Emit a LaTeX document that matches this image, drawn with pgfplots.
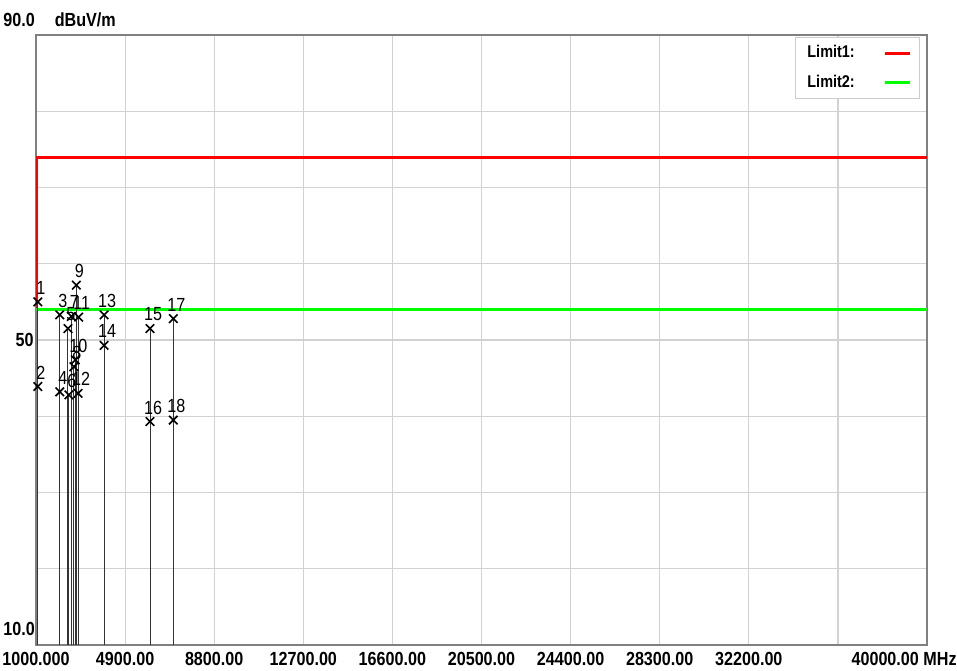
\documentclass[border=0pt]{standalone}
\usepackage{pgfplots}
\pgfplotsset{compat=1.18}
\usepackage{fontspec}
\setmainfont{Liberation Sans}[FakeStretch=0.85]

% markers: number, frequency (MHz), level (dBuV/m), drop to the 10 dB floor
\pgfplotstableread{
n  x     y     d
1  1080  55.0  45.0
2  1080  43.9  33.9
3  2040  53.3  43.3
4  2040  43.2  33.2
5  2400  51.5  41.5
6  2440  42.8  32.8
7  2545  53.1  43.1
8  2660  46.5  36.5
9  2765  57.2  47.2
10 2720  47.4  37.4
11 2870  53.0  43.0
12 2840  43.0  33.0
13 3980  53.3  43.3
14 3980  49.3  39.3
15 5990  51.5  41.5
16 5990  39.3  29.3
17 7010  52.8  42.8
18 7010  39.5  29.5
}\markers

\begin{document}
\begin{tikzpicture}
\useasboundingbox (0pt,0pt) rectangle (478.5pt,335pt);
\begin{axis}[
    at={(18pt,12.5pt)}, anchor=south west,
    scale only axis, width=445.5pt, height=305pt,
    xmin=1000, xmax=40000, ymin=10, ymax=90,
    xtick={1000,4900,8800,12700,16600,20500,24400,28300,32200,36100,40000},
    xticklabels={1000.000,4900.00,8800.00,12700.00,16600.00,20500.00,24400.00,28300.00,32200.00,,},
    ytick={10,20,30,40,50,60,70,80,90},
    yticklabels={,,,,50,,,,},
    tick style={draw=none},
    grid=major,
    grid style={gray!35, line width=0.6pt},
    axis line style={gray, line width=1.2pt},
    ticklabel style={font=\fontsize{9.5}{11}\selectfont\bfseries},
    yticklabel style={inner xsep=1pt},
    xticklabel style={anchor=base, yshift=-10pt},
    /pgf/number format/assume math mode=true,
    legend style={at={(rel axis cs:1,1)}, anchor=north east, xshift=-3.5pt, yshift=-1pt,
        draw=gray!40, line width=0.6pt, legend cell align=left,
        font=\fontsize{8.5}{10}\selectfont\bfseries, row sep=3pt,
        inner xsep=4pt, nodes={text width=36pt}},
    legend plot pos=right,
    legend image code/.code={\draw[#1] (0pt,0pt) -- (12.5pt,0pt);},
]
\addplot[red, line width=1.5pt] coordinates {(1000,54) (1000,74) (40000,74)};
\addlegendentry{Limit1:}
\addplot[green, line width=1.5pt] coordinates {(1000,54) (40000,54)};
\addlegendentry{Limit2:}

\addplot[only marks, mark=x, black, mark options={line width=0.8pt, scale=1.5},
    error bars/.cd, y dir=minus, y explicit,
    error mark=none, error bar style={black!80, line width=0.5pt}]
    table[x=x, y=y, y error minus=d] {\markers};
\addplot[only marks, mark=none,
    nodes near coords, point meta=explicit symbolic,
    every node near coord/.append style={font=\fontsize{9.5}{10}\selectfont, black,
        xshift=1.5pt, inner sep=1pt, yshift=2.5pt}]
    table[x=x, y=y, meta=n] {\markers};
\end{axis}
\node[anchor=north west, inner sep=0pt, font=\fontsize{9.5}{11}\selectfont\bfseries] at (1.5pt,329pt) {90.0\hspace{10pt}dBuV/m};
\node[anchor=south west, inner sep=0pt, font=\fontsize{9.5}{11}\selectfont\bfseries] at (1.5pt,17pt) {10.0};
\node[anchor=base east, inner sep=0pt, font=\fontsize{9.5}{11}\selectfont\bfseries] at (478.5pt,2.5pt) {40000.00 MHz};
\end{tikzpicture}
\end{document}
